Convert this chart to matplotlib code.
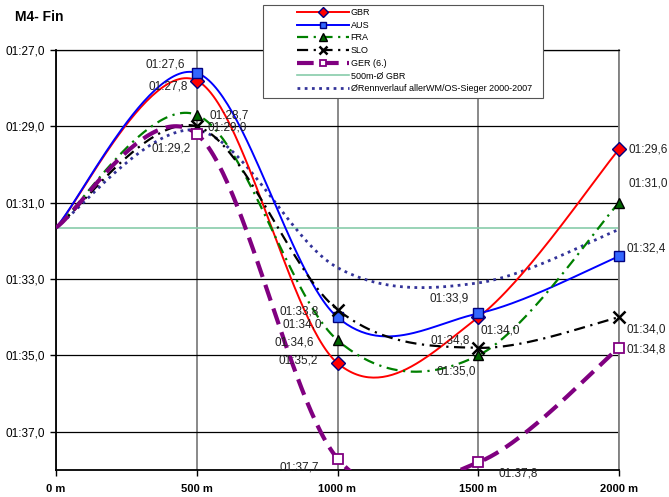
"""M4- Fin: 500 m split times of the final, Excel-style smoothed lines."""

import matplotlib
matplotlib.use("Agg")
import matplotlib.pyplot as plt
import numpy as np
from matplotlib.patches import Rectangle

# ---- data (seconds) --------------------------------------------------------
distances = [0, 500, 1000, 1500, 2000]
x_tick_labels = ["0 m", "500 m", "1000 m", "1500 m", "2000 m"]
start_value = 91.65  # all curves start at the GBR 500 m average

gbr = [start_value, 87.8, 95.2, 94.0, 89.6]
aus = [start_value, 87.6, 94.0, 93.9, 92.4]
fra = [start_value, 88.7, 94.6, 95.0, 91.0]
slo = [start_value, 89.0, 93.8, 94.8, 94.0]
ger = [start_value, 89.2, 97.7, 97.8, 94.8]
gbr_mean = 91.65
champions_avg = [start_value, 89.1, 92.7, 93.1, 91.7]

y_ticks = [87, 89, 91, 93, 95, 97]

# label offsets in pixels for the points at 500/1000/1500/2000 m
label_offsets = {
    "GBR": [(-29, -6), (-39, 3), (22, -13), (29, 0)],
    "AUS": [(-32, 8), (-35, -7), (-29, 15), (27, 8)],
    "FRA": [(32, -1), (-43, -2), (-22, -16), (29, 19)],
    "SLO": [(30, -1), (-38, -2), (-28, 7), (27, -12)],
    "GER": [(-26, -15), (-38, -9), (40, -11), (27, -2)],
}


def fmt_time(sec):
    m = int(sec // 60)
    s = sec - 60 * m
    return f"{m:02d}:{s:04.1f}".replace(".", ",")


def excel_smooth(x, y, n=60):
    pts = np.column_stack([x, y]).astype(float)
    last = len(pts) - 1
    out = []
    t = np.linspace(0, 1, n)[:, None]
    for i in range(last):
        p0, p1 = pts[max(i - 1, 0)], pts[i]
        p2, p3 = pts[i + 1], pts[min(i + 2, last)]
        c1 = p1 + (p2 - p0) / 6
        c2 = p2 - (p3 - p1) / 6
        seg = (1 - t) ** 3 * p1 + 3 * (1 - t) ** 2 * t * c1 + 3 * (1 - t) * t ** 2 * c2 + t ** 3 * p2
        out.append(seg if i == 0 else seg[1:])
    return np.vstack(out)


plt.rcParams["font.family"] = ["Liberation Sans", "DejaVu Sans"]

fig = plt.figure(figsize=(6.69, 4.97), dpi=100)
ax = fig.add_axes([56 / 669, 1 - 470 / 497, (619 - 56) / 669, (470 - 50) / 497])

series = [
    ("GBR", gbr, dict(color="#ff0000", lw=1.4, ls="-"),
     dict(marker="D", ms=7, mfc="#ff0000", mec="#000080", mew=1.0)),
    ("AUS", aus, dict(color="#0000ff", lw=1.4, ls="-"),
     dict(marker="s", ms=7, mfc="#3366ff", mec="#000080", mew=1.0)),
    ("FRA", fra, dict(color="#008000", lw=1.6, ls=(0, (5, 2.5, 1, 2.5))),
     dict(marker="^", ms=7.5, mfc="#006400", mec="black", mew=1.0)),
    ("SLO", slo, dict(color="black", lw=1.6, ls=(0, (5, 2.5, 1, 2.5))),
     dict(marker="x", ms=8, mfc="black", mec="black", mew=1.8)),
    ("GER (6.)", ger, dict(color="#800080", lw=3.0, ls=(0, (4, 2))),
     dict(marker="s", ms=6.5, mfc="white", mec="#800080", mew=1.3)),
]

# background average lines
ax.axhline(gbr_mean, color="#88ccaa", lw=1.2, zorder=2)
cs = excel_smooth(distances, champions_avg)
ax.plot(cs[:, 0], cs[:, 1], color="#333399", lw=2.0, ls=(0, (1, 1.6)), zorder=3)

handles = []
for z, (name, vals, lstyle, mstyle) in enumerate(series):
    curve = excel_smooth(distances, vals)
    ax.plot(curve[:, 0], curve[:, 1], zorder=4 + z, **lstyle)
    ax.plot(distances[1:], vals[1:], ls="none", clip_on=False, zorder=10 + z, **mstyle)
    handles.append(plt.Line2D([], [], label=name, **lstyle, **mstyle))
    key = name.split()[0]
    for (dx, dy), xv, yv in zip(label_offsets[key], distances[1:], vals[1:]):
        ax.annotate(fmt_time(yv), (xv, yv), xytext=(dx, dy), textcoords="offset pixels",
                    ha="center", va="center", fontsize=8.5, color="#222222",
                    annotation_clip=False, zorder=20)

handles.append(plt.Line2D([], [], color="#88ccaa", lw=1.2, label="500m-Ø GBR"))
handles.append(plt.Line2D([], [], color="#333399", lw=2.0, ls=(0, (1, 1.6)),
                          label="ØRennverlauf allerWM/OS-Sieger 2000-2007"))

ax.set_xlim(0, 2000)
ax.set_ylim(98, 87)
ax.set_xticks(distances)
ax.set_xticklabels(x_tick_labels, fontweight="bold", fontsize=8)
ax.set_yticks(y_ticks)
ax.set_yticklabels([fmt_time(v) for v in y_ticks], fontsize=8.5)
ax.tick_params(axis="both", direction="out", length=4, width=1, color="black", pad=4)
ax.tick_params(axis="x", pad=6)

ax.grid(axis="y", color="black", lw=0.9, zorder=1)
ax.grid(axis="x", color="#808080", lw=1.3, zorder=1)
ax.set_axisbelow(True)
for side in ["left", "bottom"]:
    ax.spines[side].set_color("black")
    ax.spines[side].set_linewidth(1.3)
ax.spines["right"].set_color("#808080")
ax.spines["right"].set_linewidth(1.3)
ax.spines["top"].set_color("black")
ax.spines["top"].set_linewidth(0.9)

fig.text(15 / 669, 1 - 17 / 497, "M4- Fin", fontsize=10, fontweight="bold", va="center", ha="left")

# legend with its own frame
fig.patches.append(Rectangle((263 / 669, 1 - 98 / 497), (543 - 263) / 669, 93 / 497,
                             transform=fig.transFigure, facecolor="white",
                             edgecolor="#555555", lw=0.8, zorder=30))
leg = fig.legend(handles=handles, loc="upper left", bbox_to_anchor=(297 / 669, 1 - 8 / 497),
                 frameon=False, prop={"family": "Liberation Sans", "size": 6.5},
                 handlelength=5.75, handletextpad=0.2, markerscale=0.7,
                 labelspacing=0.41, borderaxespad=0, borderpad=0)
leg.set_zorder(31)

fig.savefig("out.png", dpi=100)
